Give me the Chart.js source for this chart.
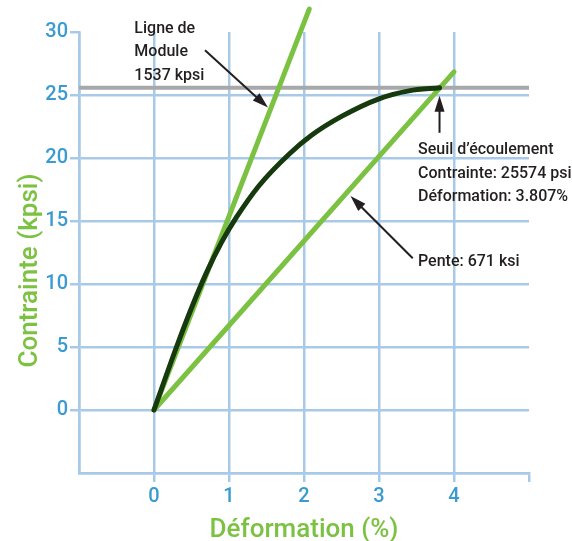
<!DOCTYPE html>
<html>
<head>
<meta charset="utf-8">
<script src="https://cdn.jsdelivr.net/npm/chart.js@4/dist/chart.umd.min.js"></script>
<style>
  html, body { margin: 0; padding: 0; background: #ffffff; }
  canvas { display: block; }
</style>
</head>
<body>
<canvas id="chart" width="572" height="541"></canvas>
<script>
// Stress-strain curve (strain in %, stress in kpsi)
const strainPct = [0, 0.3, 0.5, 0.7, 0.9, 1.1, 1.4, 1.8, 2.1, 2.5, 3.0, 3.4, 3.807];
const stressKpsi = [0, 5.0, 8.1, 10.9, 13.3, 15.3, 17.8, 20.3, 21.8, 23.3, 24.7, 25.33, 25.574];

// Elastic modulus line and offset slope line (kpsi per 1 % strain)
const modulusKpsi = 1537;      // 1537 kpsi -> 15.37 kpsi per 1 %
const slopeKsi = 671;          // 671 ksi -> 6.71 kpsi per 1 %
const modulusStrain = [0, 2.07];
const slopeStrain = [0, 4.0];

// Yield point
const yieldStressPsi = 25574;
const yieldStrainPct = 3.807;

// Axis ticks
const xTicks = [0, 1, 2, 3, 4];
const yTicks = [0, 5, 10, 15, 20, 25, 30];

const GRID = '#a9cae6';
const TICK_TXT = '#3a9bd1';
const LIGHT_GREEN = '#7cc242';
const DARK_GREEN = '#163a0e';
const INK = '#231f20';
const CLEAR = 'rgba(0,0,0,0)';

const yieldKpsi = yieldStressPsi / 1000;
const curve = strainPct.map((x, i) => ({ x, y: stressKpsi[i] }));
const modulusLine = modulusStrain.map(x => ({ x, y: x * modulusKpsi / 100 }));
const slopeLine = slopeStrain.map(x => ({ x, y: x * slopeKsi / 100 }));
const yieldLine = [{ x: -1, y: yieldKpsi }, { x: 5, y: yieldKpsi }];

// Callout texts and arrows, anchored in data coordinates
const callouts = [
  { x: -0.262, y: 29.9, lines: ['Ligne de', 'Module', modulusKpsi + ' kpsi'] },
  { x: 3.52, y: 20.29, lines: ["Seuil d’écoulement", 'Contrainte: ' + yieldStressPsi + ' psi', 'Déformation: ' + yieldStrainPct + '%'] },
  { x: 3.52, y: 11.43, lines: ['Pente: ' + slopeKsi + ' ksi'] }
];
const arrows = [
  { from: [0.68, 28.55], to: [1.52, 24.0] },
  { from: [yieldStrainPct, 22.0], to: [yieldStrainPct, 24.95] },
  { from: [3.45, 12.04], to: [2.62, 16.98] }
];

const annotationPlugin = {
  id: 'callouts',
  afterDraw(chart) {
    const { ctx, scales: { x, y }, chartArea } = chart;
    ctx.save();
    // arrows
    ctx.strokeStyle = INK;
    ctx.fillStyle = INK;
    ctx.lineWidth = 2;
    arrows.forEach(a => {
      const x0 = x.getPixelForValue(a.from[0]), y0 = y.getPixelForValue(a.from[1]);
      const x1 = x.getPixelForValue(a.to[0]), y1 = y.getPixelForValue(a.to[1]);
      const ang = Math.atan2(y1 - y0, x1 - x0);
      const len = 16, half = 5;
      const bx = x1 - len * Math.cos(ang), by = y1 - len * Math.sin(ang);
      ctx.beginPath();
      ctx.moveTo(x0, y0);
      ctx.lineTo(bx + 2 * Math.cos(ang), by + 2 * Math.sin(ang));
      ctx.stroke();
      ctx.beginPath();
      ctx.moveTo(x1, y1);
      ctx.lineTo(bx + half * Math.sin(ang), by - half * Math.cos(ang));
      ctx.lineTo(bx - half * Math.sin(ang), by + half * Math.cos(ang));
      ctx.closePath();
      ctx.fill();
    });
    // texts
    ctx.font = '500 16px Roboto, "Liberation Sans", sans-serif';
    ctx.textAlign = 'left';
    ctx.textBaseline = 'alphabetic';
    callouts.forEach(c => {
      const px = x.getPixelForValue(c.x), py = y.getPixelForValue(c.y);
      c.lines.forEach((t, i) => ctx.fillText(t, px, py + i * 23.2));
    });
    // axis titles
    ctx.fillStyle = LIGHT_GREEN;
    ctx.font = '500 26px Roboto, "Liberation Sans", sans-serif';
    ctx.textAlign = 'center';
    ctx.fillText('Déformation (%)', (chartArea.left + chartArea.right) / 2, 537);
    ctx.translate(37, chart.height / 2);
    ctx.rotate(-Math.PI / 2);
    ctx.fillText('Contrainte (kpsi)', 0, 0);
    ctx.restore();
  }
};

const tickFont = { family: 'Roboto, "Liberation Sans", sans-serif', size: 20, weight: '500' };

new Chart(document.getElementById('chart'), {
  type: 'scatter',
  data: {
    datasets: [
      { label: 'Courbe', data: curve, showLine: true, borderColor: DARK_GREEN, borderWidth: 5,
        pointRadius: 0, cubicInterpolationMode: 'monotone', borderCapStyle: 'round', order: 0 },
      { label: 'Module', data: modulusLine, showLine: true, borderColor: LIGHT_GREEN, borderWidth: 5,
        pointRadius: 0, borderCapStyle: 'round', clip: false, order: 1 },
      { label: 'Pente', data: slopeLine, showLine: true, borderColor: LIGHT_GREEN, borderWidth: 5,
        pointRadius: 0, borderCapStyle: 'round', clip: false, order: 2 },
      { label: 'Seuil', data: yieldLine, showLine: true, borderColor: '#a7a8aa', borderWidth: 4,
        pointRadius: 0, borderCapStyle: 'butt', order: 3 }
    ]
  },
  options: {
    responsive: false,
    animation: false,
    events: [],
    layout: { padding: { top: 32, right: 43, left: 0, bottom: 0 } },
    plugins: { legend: { display: false }, tooltip: { enabled: false } },
    scales: {
      x: {
        type: 'linear', min: -1, max: 5,
        afterFit: s => { s.height = 68; },
        afterBuildTicks: s => { s.ticks = [-1, ...xTicks, 5].map(v => ({ value: v })); },
        ticks: {
          callback: v => (xTicks.includes(v) ? String(v) : ''),
          color: TICK_TXT, font: tickFont, padding: 3, maxRotation: 0, autoSkip: false
        },
        grid: {
          color: c => (c.tick && c.tick.value === 5 ? CLEAR : GRID),
          tickColor: c => (c.tick && c.tick.value === -1 ? CLEAR : GRID),
          lineWidth: 2.5, tickLength: 9
        },
        border: { color: GRID, width: 2.5 }
      },
      y: {
        type: 'linear', min: -5, max: 30,
        afterFit: s => { s.width = 79; },
        afterBuildTicks: s => { s.ticks = [-5, ...yTicks].map(v => ({ value: v })); },
        ticks: {
          callback: v => (yTicks.includes(v) ? String(v) : ''),
          color: TICK_TXT, font: tickFont, padding: 2, autoSkip: false
        },
        grid: {
          color: c => (c.tick && c.tick.value === 30 ? CLEAR : GRID),
          tickColor: c => (c.tick && c.tick.value === -5 ? CLEAR : GRID),
          lineWidth: 2.5, tickLength: 9
        },
        border: { color: GRID, width: 2.5 }
      }
    }
  },
  plugins: [annotationPlugin]
});
</script>
</body>
</html>
